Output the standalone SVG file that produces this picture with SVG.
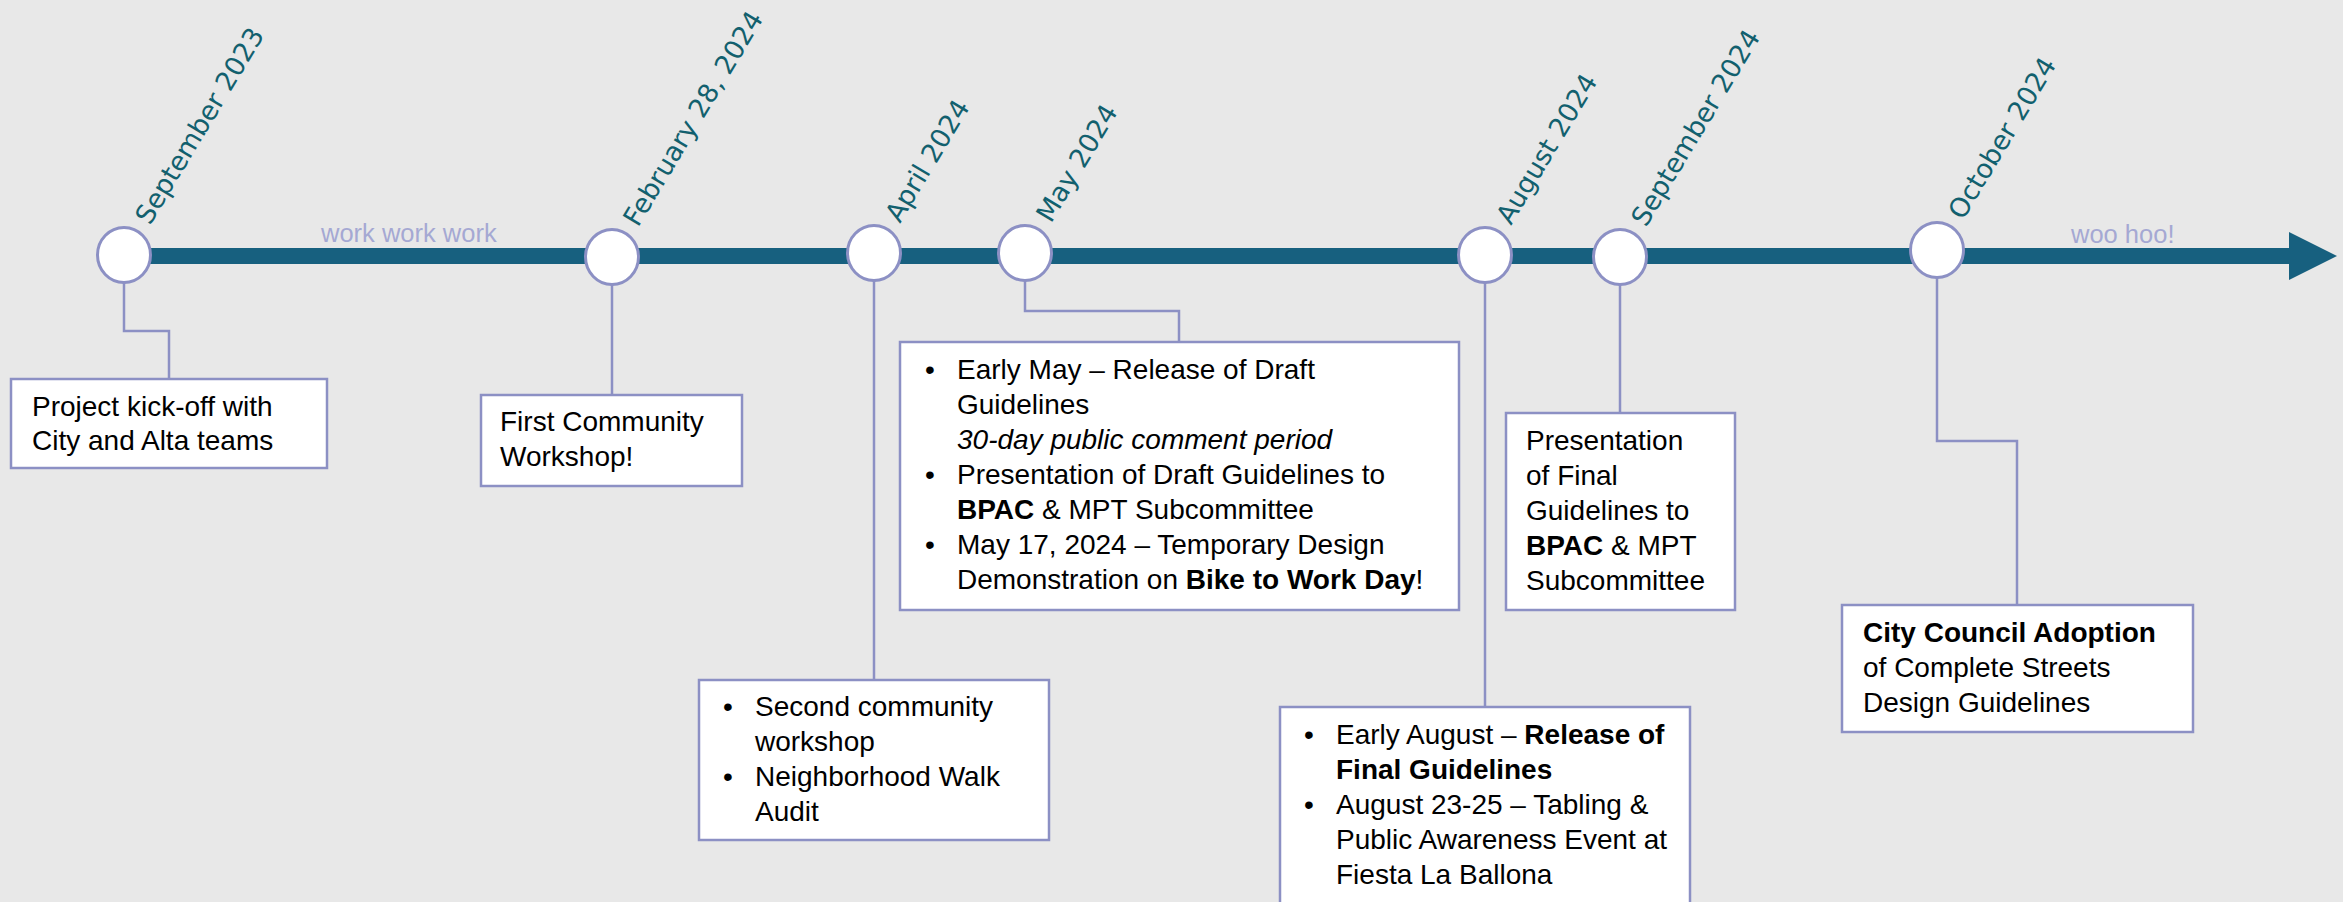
<svg xmlns="http://www.w3.org/2000/svg" width="2343" height="902" viewBox="0 0 2343 902">
<style>
.bg{fill:#e8e8e8}
.axis{fill:#17607f}
.dot{fill:#ffffff;stroke:#8c90c4;stroke-width:3}
.box{fill:#ffffff;stroke:#8c90c4;stroke-width:2.5}
.conn{fill:none;stroke:#8c90c4;stroke-width:2.5}
.date{font-family:"DejaVu Sans",Verdana,sans-serif;font-size:26.6px;fill:#12606e}
.note{font-family:"Liberation Sans",Arial,sans-serif;font-size:25.5px;fill:#a5a8d3}
.t{font-family:"Liberation Sans",Arial,sans-serif;font-size:28px;fill:#000000}
.b{font-weight:bold}
.i{font-style:italic}
</style>
<rect class="bg" x="0" y="0" width="2343" height="902"/>

<g id="timeline">
  <rect class="axis" x="124" y="248" width="2166" height="16"/>
  <polygon class="axis" points="2289,232 2337,256 2289,280"/>
  <text class="note" x="321" y="242">work work work</text>
  <text class="note" x="2071" y="243">woo hoo!</text>
</g>

<g id="connectors">
  <polyline class="conn" points="124,283 124,331 169,331 169,379"/>
  <line class="conn" x1="612" y1="284" x2="612" y2="395"/>
  <line class="conn" x1="874" y1="280" x2="874" y2="680"/>
  <polyline class="conn" points="1025,280 1025,311 1179,311 1179,342"/>
  <line class="conn" x1="1485" y1="282" x2="1485" y2="707"/>
  <line class="conn" x1="1620" y1="284" x2="1620" y2="413"/>
  <polyline class="conn" points="1937,277 1937,441 2017,441 2017,605"/>
</g>

<g id="m1">
  <ellipse class="dot" cx="124" cy="255" rx="26.5" ry="27.5"/>
  <text class="date" transform="translate(150,226) rotate(-59)">September 2023</text>
</g>
<g id="m2">
  <ellipse class="dot" cx="612" cy="257" rx="26.5" ry="27.5"/>
  <text class="date" transform="translate(638,228) rotate(-59)">February 28, 2024</text>
</g>
<g id="m3">
  <ellipse class="dot" cx="874" cy="253" rx="26.5" ry="27.5"/>
  <text class="date" transform="translate(900,224) rotate(-59)">April 2024</text>
</g>
<g id="m4">
  <ellipse class="dot" cx="1025" cy="253" rx="26.5" ry="27.5"/>
  <text class="date" transform="translate(1051,224) rotate(-59)">May 2024</text>
</g>
<g id="m5">
  <ellipse class="dot" cx="1485" cy="255" rx="26.5" ry="27.5"/>
  <text class="date" transform="translate(1511,226) rotate(-59)">August 2024</text>
</g>
<g id="m6">
  <ellipse class="dot" cx="1620" cy="257" rx="26.5" ry="27.5"/>
  <text class="date" transform="translate(1646,228) rotate(-59)">September 2024</text>
</g>
<g id="m7">
  <ellipse class="dot" cx="1937" cy="250" rx="26.5" ry="27.5"/>
  <text class="date" transform="translate(1963,221) rotate(-59)">October 2024</text>
</g>

<g id="box1">
  <rect class="box" x="11" y="379" width="316" height="89"/>
  <text class="t" x="32" y="416">Project kick-off with</text>
  <text class="t" x="32" y="450">City and Alta teams</text>
</g>

<g id="box2">
  <rect class="box" x="481" y="395" width="261" height="91"/>
  <text class="t" x="500" y="431">First Community</text>
  <text class="t" x="500" y="466">Workshop!</text>
</g>

<g id="box3">
  <rect class="box" x="699" y="680" width="350" height="160"/>
  <text class="t" x="723" y="716">•</text>
  <text class="t" x="755" y="716">Second community</text>
  <text class="t" x="755" y="751">workshop</text>
  <text class="t" x="723" y="786">•</text>
  <text class="t" x="755" y="786">Neighborhood Walk</text>
  <text class="t" x="755" y="821">Audit</text>
</g>

<g id="box4">
  <rect class="box" x="900" y="342" width="559" height="268"/>
  <text class="t" x="925" y="379">•</text>
  <text class="t" x="957" y="379">Early May – Release of Draft</text>
  <text class="t" x="957" y="414">Guidelines</text>
  <text class="t i" x="957" y="449">30-day public comment period</text>
  <text class="t" x="925" y="484">•</text>
  <text class="t" x="957" y="484">Presentation of Draft Guidelines to</text>
  <text class="t" x="957" y="519"><tspan class="b">BPAC</tspan> &amp; MPT Subcommittee</text>
  <text class="t" x="925" y="554">•</text>
  <text class="t" x="957" y="554">May 17, 2024 – Temporary Design</text>
  <text class="t" x="957" y="589">Demonstration on <tspan class="b">Bike to Work Day</tspan>!</text>
</g>

<g id="box5">
  <rect class="box" x="1280" y="707" width="410" height="210"/>
  <text class="t" x="1304" y="744">•</text>
  <text class="t" x="1336" y="744">Early August – <tspan class="b">Release of</tspan></text>
  <text class="t b" x="1336" y="779">Final Guidelines</text>
  <text class="t" x="1304" y="814">•</text>
  <text class="t" x="1336" y="814">August 23-25 – Tabling &amp;</text>
  <text class="t" x="1336" y="849">Public Awareness Event at</text>
  <text class="t" x="1336" y="884">Fiesta La Ballona</text>
</g>

<g id="box6">
  <rect class="box" x="1506" y="413" width="229" height="197"/>
  <text class="t" x="1526" y="450">Presentation</text>
  <text class="t" x="1526" y="485">of Final</text>
  <text class="t" x="1526" y="520">Guidelines to</text>
  <text class="t" x="1526" y="555"><tspan class="b">BPAC</tspan> &amp; MPT</text>
  <text class="t" x="1526" y="590">Subcommittee</text>
</g>

<g id="box7">
  <rect class="box" x="1842" y="605" width="351" height="127"/>
  <text class="t b" x="1863" y="642">City Council Adoption</text>
  <text class="t" x="1863" y="677">of Complete Streets</text>
  <text class="t" x="1863" y="712">Design Guidelines</text>
</g>
</svg>
